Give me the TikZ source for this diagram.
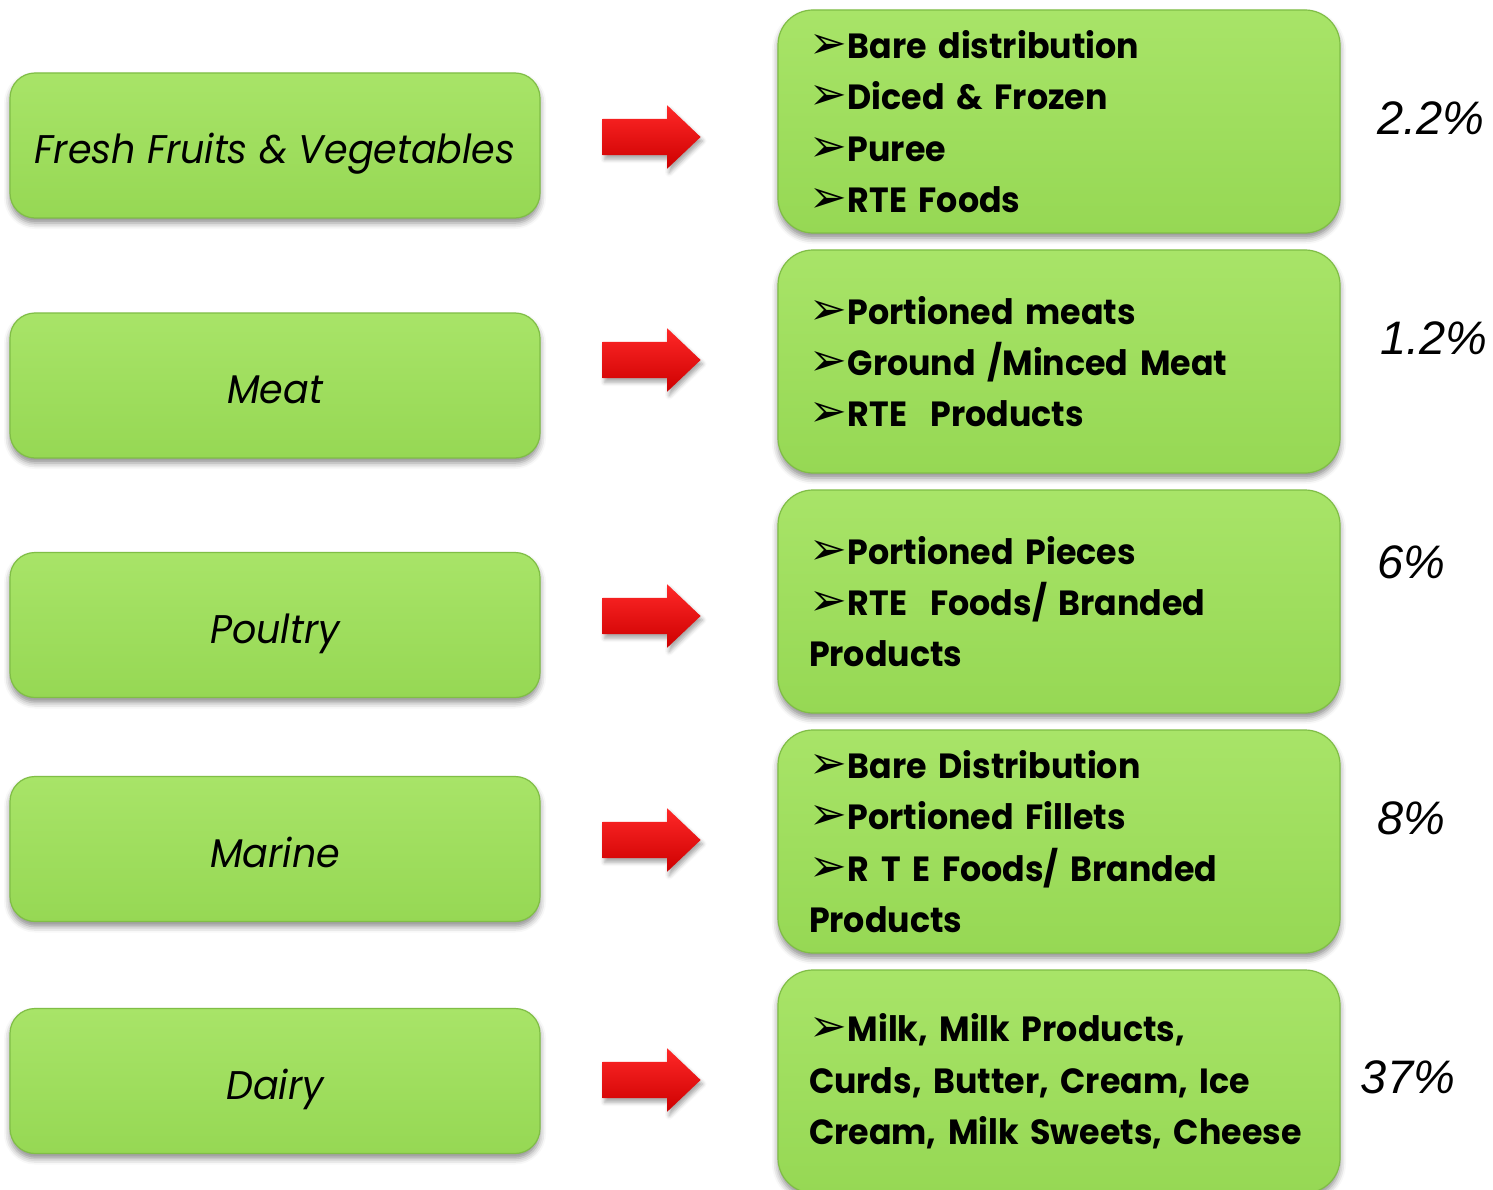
\documentclass[tikz,border=0pt]{standalone}
\usepackage{fontspec}
\setmainfont{Poppins}[FakeStretch=0.95]
\newfontfamily\pctfont{Liberation Sans}
\newfontfamily\bulletfont{DejaVu Sans}
\usetikzlibrary{shapes.arrows,shadows.blur}
\definecolor{boxtop}{RGB}{168,228,104}
\definecolor{boxbottom}{RGB}{150,216,84}
\definecolor{boxborder}{RGB}{128,190,70}
\definecolor{arrowtop}{RGB}{255,40,40}
\definecolor{arrowbottom}{RGB}{205,0,0}
\newcommand{\bl}{{\bulletfont\fontsize{45}{45}\selectfont ➢}\hspace{1pt}}
\begin{document}
\begin{tikzpicture}[x=1pt,y=-1pt,
  boxbase/.style={draw=boxborder, line width=1.2pt, top color=boxtop, bottom color=boxbottom,
    blur shadow={shadow xshift=0pt, shadow yshift=-5pt, shadow blur radius=6pt, shadow opacity=45}},
  catbox/.style={boxbase, rounded corners=25pt, minimum width=530pt, minimum height=145pt,
    inner sep=0pt, text height=40pt, text depth=4pt, font=\fontsize{40}{48}\selectfont\itshape},
  listbox/.style={boxbase, rounded corners=35pt, minimum width=562pt, minimum height=223pt,
    inner xsep=31pt, inner ysep=0pt, text width=500pt, align=left,
    font=\fontsize{35}{51.3}\selectfont\bfseries},
  redarrow/.style={single arrow, minimum height=98pt, minimum width=63pt, inner xsep=0pt, inner ysep=18pt,
    single arrow head extend=13.5pt, single arrow tip angle=87,
    top color=arrowtop, bottom color=arrowbottom, draw=none,
    blur shadow={shadow xshift=2pt, shadow yshift=-4pt, shadow blur radius=4pt, shadow opacity=35}},
  pct/.style={font=\pctfont\fontsize{47}{47}\selectfont\itshape, inner sep=0pt}
]
\useasboundingbox (0,0) rectangle (1493,1190);

% left category boxes
\node[catbox] (l1) at (275,145.5) {Fresh Fruits \& Vegetables};
\node[catbox] (l2) at (275,385.5) {Meat};
\node[catbox] (l3) at (275,625) {Poultry};
\node[catbox] (l4) at (275,849) {Marine};
\node[catbox] (l5) at (275,1081) {Dairy};

% right list boxes
\node[listbox] (r1) at (1059,121.5) {\bl Bare distribution\\\bl Diced \& Frozen\\\bl Puree\\\bl RTE Foods};
\node[listbox] (r2) at (1059,361.5) {\bl Portioned meats\\\bl Ground /Minced Meat\\\bl RTE\ \ Products};
\node[listbox] (r3) at (1059,601.5) {\bl Portioned Pieces\\\bl RTE\ \ Foods/ Branded\\Products};
\node[listbox] (r4) at (1059,841.5) {\bl Bare Distribution\\\bl Portioned Fillets\\\bl R T E Foods/ Branded\\Products};
\node[listbox] (r5) at (1059,1081.5) {\bl Milk, Milk Products,\\Curds, Butter, Cream, Ice\\Cream, Milk Sweets, Cheese};

% red block arrows
\node[redarrow] (a1) at (642,137) {};
\node[redarrow] (a2) at (642,360) {};
\node[redarrow] (a3) at (642,616) {};
\node[redarrow] (a4) at (642,840) {};
\node[redarrow] (a5) at (642,1080) {};

% percentages
\node[pct] (p1) at (1431,118) {2.2\%};
\node[pct] (p2) at (1434,338) {1.2\%};
\node[pct] (p3) at (1411,562) {6\%};
\node[pct] (p4) at (1411,818) {8\%};
\node[pct] (p5) at (1408,1077) {37\%};
\end{tikzpicture}
\end{document}
